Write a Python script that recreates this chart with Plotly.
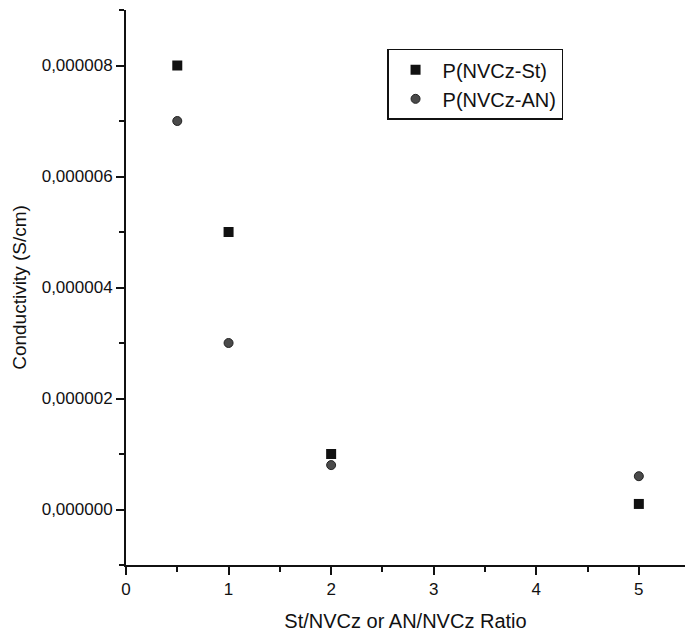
import plotly.graph_objects as go

# Conductivity vs. monomer feed ratio
ratio = [0.5, 1, 2, 5]
st_conductivity = [8.0e-6, 5.0e-6, 1.0e-6, 0.1e-6]
an_conductivity = [7.0e-6, 3.0e-6, 0.8e-6, 0.6e-6]

x_ticks = [0, 1, 2, 3, 4, 5]
y_ticks = [0, 2e-6, 4e-6, 6e-6, 8e-6]

font_family = "Liberation Sans, Arial, sans-serif"

fig = go.Figure()
fig.add_trace(go.Scatter(
    x=ratio, y=st_conductivity, mode="markers", name="P(NVCz-St)",
    marker=dict(symbol="square", size=10, color="#111111"),
))
fig.add_trace(go.Scatter(
    x=ratio, y=an_conductivity, mode="markers", name="P(NVCz-AN)",
    marker=dict(symbol="circle", size=9, color="#4a4a4a",
                line=dict(color="#222222", width=1)),
))

axis_common = dict(
    showline=True, linecolor="#111111", linewidth=2,
    showgrid=False, zeroline=False, mirror=False,
    ticks="outside", ticklen=8, tickwidth=1.5, tickcolor="#111111",
    tickfont=dict(family=font_family, size=17, color="#111111"),
    minor=dict(ticks="outside", ticklen=5, tickwidth=1.5, tickcolor="#111111"),
)

fig.update_layout(
    width=685, height=632,
    margin=dict(l=126, r=0, t=10, b=67),
    paper_bgcolor="white", plot_bgcolor="white",
    separators=", ",
    font=dict(family=font_family, color="#111111"),
    xaxis=dict(
        range=[0, 5.45], tickvals=x_ticks,
        title=dict(text="St/NVCz or AN/NVCz Ratio", font=dict(size=20), standoff=17),
        **axis_common,
    ),
    yaxis=dict(
        range=[-1e-6, 9e-6], tickvals=y_ticks, tickformat=".6f",
        title=dict(text="Conductivity (S/cm)", font=dict(size=19), standoff=10),
        **axis_common,
    ),
    legend=dict(
        x=0.467, y=0.93, xanchor="left", yanchor="top",
        bordercolor="#111111", borderwidth=1.5, bgcolor="white",
        font=dict(family=font_family, size=20, color="#111111"),
        tracegroupgap=0, itemwidth=44, entrywidth=150,
    ),
    showlegend=True,
)

fig.update_xaxes(minor_dtick=0.5)
fig.update_yaxes(minor_dtick=1e-6)

fig.write_html("out.html")
